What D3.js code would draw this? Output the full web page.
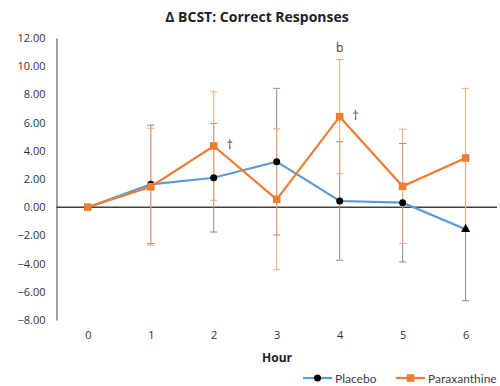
<!DOCTYPE html>
<html><head><meta charset="utf-8">
<script src="https://cdn.jsdelivr.net/npm/d3@7"></script>
<style>body{margin:0;background:#fff}svg{display:block;font-family:"Open Sans","Liberation Sans",sans-serif}</style>
</head><body>
<svg id="c" width="500" height="386"></svg>
<script>
const hours = ["0","1","2","3","4","5","6"];
const placebo = [0, 1.62, 2.09, 3.23, 0.44, 0.32, -1.57];
const placeboErr = [0, 4.2, 3.85, 5.2, 4.2, 4.2, 5.06];
const paraxanthine = [0, 1.45, 4.34, 0.56, 6.42, 1.48, 3.49];
const paraxanthineErr = [0, 4.15, 3.85, 5.0, 4.05, 4.05, 4.94];
const yTicks = [12, 10, 8, 6, 4, 2, 0, -2, -4, -6, -8];
const annotations = [{h:"2", v:4.34, t:"†"}, {h:"4", v:6.42, t:"†"}, {h:"4", v:10.47, t:"b"}];

const svg = d3.select("#c");
const x = d3.scalePoint().domain(hours).range([87.8, 465.6]);
const y = d3.scaleLinear().domain([-8, 12]).range([320, 38]);

svg.append("text").attr("x", 257).attr("y", 22).attr("text-anchor","middle")
  .attr("font-size", 14).attr("font-weight","bold").attr("fill","#222").text("Δ BCST: Correct Responses");

// y axis
const ya = svg.append("g").attr("transform","translate(56.5,0)")
  .call(d3.axisLeft(y).tickValues(yTicks).tickFormat(d3.format(".2f")).tickSize(0).tickPadding(11));
ya.select(".domain").attr("stroke","#404040").attr("stroke-width",1);
ya.selectAll("text").attr("font-size",11).attr("fill","#333").attr("font-family","'Open Sans',sans-serif");

// x tick labels
const xa = svg.append("g").attr("transform","translate(0,320)")
  .call(d3.axisBottom(x).tickSize(0).tickPadding(11));
xa.select(".domain").remove();
xa.selectAll("text").attr("font-size",11).attr("fill","#333").attr("font-family","'Open Sans',sans-serif");

// zero line
svg.append("line").attr("x1",56.5).attr("x2",497).attr("y1",y(0)).attr("y2",y(0))
  .attr("stroke","#404040").attr("stroke-width",1.5);

svg.append("text").attr("x", 277).attr("y", 362).attr("text-anchor","middle")
  .attr("font-size",12).attr("font-weight","bold").attr("fill","#222").text("Hour");

function errBars(vals, errs, color) {
  const g = svg.append("g").attr("stroke", color).attr("stroke-width", 1);
  hours.forEach((h, i) => {
    if (!errs[i]) return;
    const cx = x(h), lo = y(vals[i]-errs[i]), hi = y(vals[i]+errs[i]);
    g.append("line").attr("x1",cx).attr("x2",cx).attr("y1",lo).attr("y2",hi);
    g.append("line").attr("x1",cx-3.5).attr("x2",cx+3.5).attr("y1",lo).attr("y2",lo);
    g.append("line").attr("x1",cx-3.5).attr("x2",cx+3.5).attr("y1",hi).attr("y2",hi);
  });
}
errBars(placebo, placeboErr, "#8c8c8c");
errBars(paraxanthine, paraxanthineErr, "#f4a873");

const line = d3.line().x((d,i)=>x(hours[i])).y(d=>y(d));
svg.append("path").datum(placebo).attr("d", line).attr("fill","none").attr("stroke","#5b9bd5").attr("stroke-width",2.2);
svg.append("path").datum(paraxanthine).attr("d", line).attr("fill","none").attr("stroke","#ed7d31").attr("stroke-width",2.2);

// placebo markers
placebo.forEach((v,i) => {
  if (i === hours.length-1) {
    svg.append("path").attr("d", d3.symbol(d3.symbolTriangle, 36)())
      .attr("transform",`translate(${x(hours[i])},${y(v)})`).attr("fill","#000");
  } else {
    svg.append("circle").attr("cx",x(hours[i])).attr("cy",y(v)).attr("r",3.5).attr("fill","#000");
  }
});
// paraxanthine markers
paraxanthine.forEach((v,i) => {
  svg.append("rect").attr("x",x(hours[i])-3.8).attr("y",y(v)-3.8).attr("width",7.6).attr("height",7.6).attr("fill","#ed7d31");
});

annotations.forEach(a => {
  const isB = a.t === "b";
  svg.append("text").attr("x", x(a.h) + (isB ? 0 : 16)).attr("y", isB ? y(a.v)-8 : y(a.v)+3)
    .attr("text-anchor","middle").attr("font-size",12).attr("fill","#404040").text(a.t);
});

// legend
const lg = svg.append("g").attr("font-size",12).attr("font-family","Lato,'Open Sans',sans-serif");
lg.append("line").attr("x1",303).attr("x2",332).attr("y1",378).attr("y2",378).attr("stroke","#5b9bd5").attr("stroke-width",2.2);
lg.append("circle").attr("cx",317.5).attr("cy",378).attr("r",3.5).attr("fill","#000");
lg.append("text").attr("x",335).attr("y",382.5).attr("fill","#404040").text("Placebo");
lg.append("line").attr("x1",396).attr("x2",425).attr("y1",378).attr("y2",378).attr("stroke","#ed7d31").attr("stroke-width",2.2);
lg.append("rect").attr("x",406.7).attr("y",374.2).attr("width",7.6).attr("height",7.6).attr("fill","#ed7d31");
lg.append("text").attr("x",428).attr("y",382.5).attr("fill","#404040").text("Paraxanthine");
</script>
</body></html>
